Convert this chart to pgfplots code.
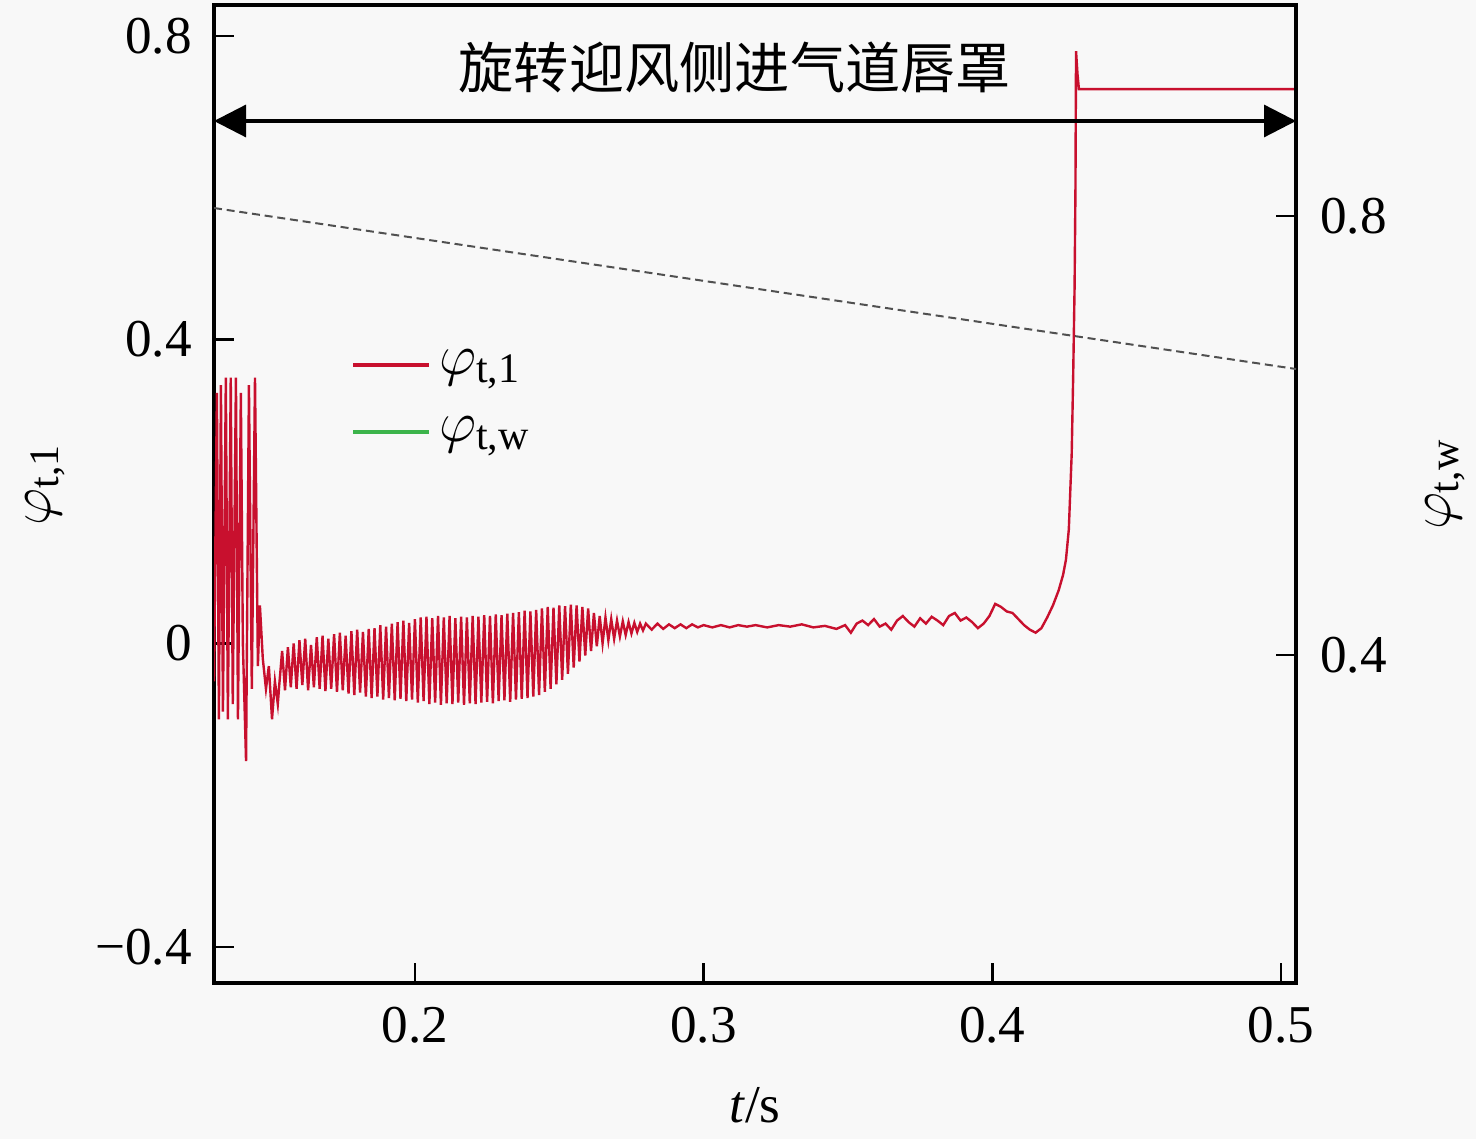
\documentclass[border=0pt]{standalone}
\usepackage{fontspec}
\setmainfont{Liberation Serif}
\newfontfamily\cjk{Noto Sans CJK SC}
\usepackage{pgfplots}
\pgfplotsset{compat=1.18}
\usetikzlibrary{arrows.meta}
\definecolor{bg}{RGB}{248,248,248}
\definecolor{redl}{RGB}{200,16,46}
\definecolor{greenl}{RGB}{60,180,75}
\definecolor{dashg}{RGB}{80,80,80}
\newcommand{\phisub}[1]{$\varphi_{\hbox{\fontsize{10.5}{10.5}\selectfont #1}}$}
\begin{document}
\begin{tikzpicture}
\path[use as bounding box, fill=bg] (-53.5pt,-39pt) rectangle (315.5pt,245.75pt);
\begin{axis}[
  at={(0,0)}, anchor=south west,
  scale only axis, width=270.5pt, height=244.5pt,
  xmin=0.1304, xmax=0.5052, ymin=-0.4474, ymax=0.8408,
  xtick={0.2,0.3,0.4,0.5}, xticklabels={0.2,0.3,0.4,0.5},
  ytick={-0.4,0,0.4,0.8}, yticklabels={−0.4,0,0.4,0.8},
  xtick pos=bottom, ytick pos=left,
  tick align=inside, major tick length=5pt,
  tick style={line width=0.7pt,black},
  axis line style={line width=0.8pt},
  ticklabel style={font=\fontsize{13.3}{15}\selectfont},
  xticklabel style={yshift=-2.5pt},
  yticklabel style={xshift=-2pt},
  xlabel={\textit{t}/s},
  xlabel style={at={(axis description cs:0.5,-0.125)}, anchor=center, font=\fontsize{13.3}{15}\selectfont},
  ylabel={\phisub{t,1}},
  ylabel style={at={(axis description cs:-0.156,0.51)}, anchor=center, font=\fontsize{15.5}{17}\selectfont},
  legend style={draw=none, fill=none, at={(axis description cs:0.115,0.665)}, anchor=north west,
    font=\fontsize{15.5}{17}\selectfont, row sep=5pt},
  legend cell align=left,
  legend image code/.code={\draw[#1, line width=1pt] (0pt,0pt) -- (19pt,0pt);},
]
\addplot[redl, line width=0.6pt] coordinates {
(0.1304,-0.05) (0.1314,0.33) (0.1321,-0.10) (0.1328,0.34) (0.1335,-0.09) (0.1345,0.35) (0.1352,-0.10)
(0.1362,0.35) (0.1369,-0.08) (0.1380,0.35) (0.1387,-0.10) (0.1397,0.33) (0.1404,0.0) (0.1415,-0.155)
(0.1425,0.34) (0.1435,-0.06) (0.1446,0.35) (0.1456,-0.03) (0.1463,0.05) (0.1473,-0.02) (0.1484,-0.06)
(0.1494,-0.03) (0.1505,-0.10) (0.1515,-0.05) (0.1525,-0.08)
(0.153,-0.055) (0.154,-0.010) (0.155,-0.062) (0.156,-0.005) (0.157,-0.058) (0.158,0.000) (0.159,-0.060)
(0.160,0.004) (0.161,-0.055) (0.162,0.006) (0.163,-0.062) (0.164,-0.002) (0.165,-0.058) (0.166,0.008)
(0.167,-0.060) (0.168,0.010) (0.169,-0.063) (0.170,0.006) (0.171,-0.060) (0.172,0.012) (0.173,-0.064)
(0.174,0.014) (0.175,-0.062) (0.176,0.010) (0.177,-0.066) (0.178,0.016) (0.179,-0.068) (0.180,0.018)
(0.181,-0.065) (0.182,0.015) (0.183,-0.070) (0.184,0.019) (0.185,-0.072) (0.186,0.020) (0.187,-0.070)
(0.188,0.024) (0.189,-0.074) (0.190,0.022) (0.191,-0.072) (0.192,0.026) (0.193,-0.075) (0.194,0.028)
(0.195,-0.073) (0.196,0.030) (0.197,-0.076) (0.198,0.027) (0.199,-0.074) (0.200,0.032) (0.201,-0.078)
(0.202,0.034) (0.203,-0.076) (0.204,0.035) (0.205,-0.080) (0.206,0.033) (0.207,-0.078) (0.208,0.036)
(0.209,-0.081) (0.210,0.034) (0.211,-0.079) (0.212,0.036) (0.213,-0.080) (0.214,0.033) (0.215,-0.078)
(0.216,0.035) (0.217,-0.081) (0.218,0.034) (0.219,-0.079) (0.220,0.036) (0.221,-0.080) (0.222,0.035)
(0.223,-0.078) (0.224,0.037) (0.225,-0.077) (0.226,0.036) (0.227,-0.079) (0.228,0.038) (0.229,-0.076)
(0.230,0.037) (0.231,-0.075) (0.232,0.039) (0.233,-0.077) (0.234,0.040) (0.235,-0.074) (0.236,0.041)
(0.237,-0.073) (0.238,0.043) (0.239,-0.072) (0.240,0.042) (0.241,-0.070) (0.242,0.044) (0.243,-0.068)
(0.244,0.046) (0.245,-0.064) (0.246,0.048) (0.247,-0.060) (0.248,0.047) (0.249,-0.054) (0.250,0.050)
(0.251,-0.048) (0.252,0.049) (0.253,-0.040) (0.254,0.051) (0.255,-0.032) (0.256,0.050) (0.257,-0.024)
(0.258,0.048) (0.259,-0.016) (0.260,0.046) (0.261,-0.010) (0.262,0.040) (0.263,-0.004) (0.264,0.036)
(0.265,0.000) (0.266,0.034) (0.267,0.004) (0.268,0.032) (0.269,0.006) (0.270,0.030) (0.271,0.009)
(0.272,0.029) (0.273,0.011) (0.274,0.028) (0.275,0.013) (0.276,0.027) (0.277,0.015) (0.278,0.026)
(0.279,0.017) (0.280,0.026) (0.282,0.018) (0.284,0.026) (0.286,0.019) (0.288,0.025) (0.290,0.020)
(0.292,0.025) (0.294,0.020) (0.296,0.025) (0.298,0.021) (0.300,0.024) (0.303,0.021) (0.306,0.024)
(0.309,0.021) (0.312,0.024) (0.315,0.022) (0.318,0.024) (0.322,0.021) (0.326,0.024) (0.330,0.022)
(0.334,0.025) (0.338,0.021) (0.342,0.023) (0.346,0.019) (0.349,0.024) (0.351,0.014) (0.353,0.026)
(0.355,0.030) (0.357,0.024) (0.359,0.032) (0.361,0.022) (0.363,0.026) (0.365,0.018) (0.367,0.030)
(0.369,0.036) (0.371,0.028) (0.373,0.022) (0.375,0.033) (0.377,0.026) (0.379,0.035) (0.381,0.030)
(0.383,0.024) (0.385,0.036) (0.387,0.040) (0.389,0.030) (0.391,0.034) (0.393,0.028) (0.395,0.020)
(0.397,0.026) (0.399,0.036) (0.401,0.052) (0.403,0.048) (0.405,0.042) (0.407,0.040) (0.409,0.032)
(0.411,0.024) (0.413,0.018) (0.415,0.014) (0.417,0.020) (0.419,0.034) (0.421,0.050) (0.423,0.070)
(0.4245,0.090) (0.4255,0.110) (0.4265,0.150) (0.4275,0.250) (0.428,0.35) (0.4285,0.47) (0.4288,0.60)
(0.429,0.78) (0.4295,0.75) (0.430,0.73) (0.5052,0.73)
};
\addlegendentry{\phisub{t,1}}
\addlegendimage{greenl}
\addlegendentry{\phisub{t,w}}
\draw[line width=0.8pt, {Triangle[length=8pt,width=8pt]}-{Triangle[length=8pt,width=8pt]}]
  (axis cs:0.1304,0.688) -- (axis cs:0.5052,0.688);
\node[font=\cjk\fontsize{13.8}{16}\selectfont] at (axis cs:0.3108,0.759) {旋转迎风侧进气道唇罩};
\end{axis}
\begin{axis}[
  at={(0,0)}, anchor=south west,
  scale only axis, width=270.5pt, height=244.5pt,
  xmin=0.1304, xmax=0.5052, ymin=0.1011, ymax=0.9923,
  axis x line=none, axis y line*=right,
  ytick={0.4,0.8}, yticklabels={0.4,0.8},
  tick align=inside, major tick length=5pt,
  tick style={line width=0.7pt,black},
  axis line style={line width=0.8pt},
  ticklabel style={font=\fontsize{13.3}{15}\selectfont},
  yticklabel style={xshift=2.5pt},
  ylabel={\phisub{t,w}},
  ylabel style={at={(axis description cs:1.138,0.51)}, anchor=center, rotate=0, font=\fontsize{15.5}{17}\selectfont},
]
\addplot[dashg, line width=0.5pt, dash pattern=on 2pt off 1.2pt] coordinates {(0.1304,0.8073) (0.5052,0.6606)};
\end{axis}
\end{tikzpicture}
\end{document}
